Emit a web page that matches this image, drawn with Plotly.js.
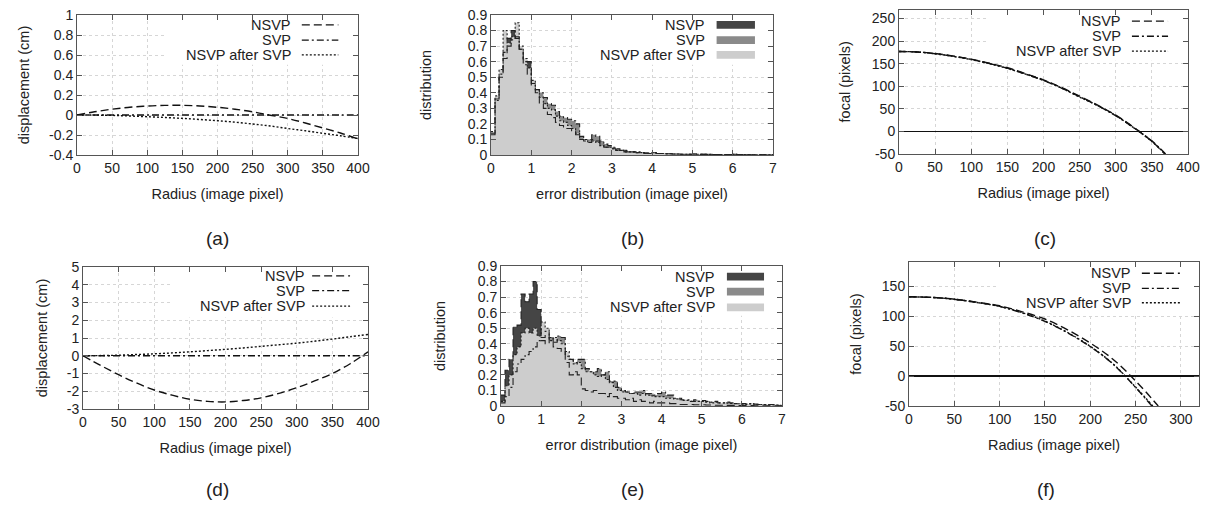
<!DOCTYPE html>
<html>
<head>
<meta charset="utf-8">
<script src="https://cdn.plot.ly/plotly-3.0.1.min.js"></script>
<style>html,body{margin:0;padding:0;background:#fff;}#chart{width:1213px;height:505px;}</style>
</head>
<body>
<div id="chart"></div>
<script>
// ---------------- DATA ----------------
const seriesNames = ["NSVP", "SVP", "NSVP after SVP"];
const panelLabels = ["(a)", "(b)", "(c)", "(d)", "(e)", "(f)"];

// tick labels (y axes with negative values use a plain hyphen, as in the original)
const yTicksA = [-0.4,-0.2,0,0.2,0.4,0.6,0.8,1];
const yTickTextA = ["-0.4","-0.2","0","0.2","0.4","0.6","0.8","1"];
const yTicksC = [-50,0,50,100,150,200,250];
const yTickTextC = ["-50","0","50","100","150","200","250"];
const yTicksD = [-3,-2,-1,0,1,2,3,4,5];
const yTickTextD = ["-3","-2","-1","0","1","2","3","4","5"];
const yTicksF = [-50,0,50,100,150];
const yTickTextF = ["-50","0","50","100","150"];

// (a) displacement vs radius
const radiusA = [0,25,50,75,100,125,150,175,200,225,250,275,300,325,350,375,400];
const dispA_NSVP  = [0,0.032,0.058,0.077,0.09,0.096,0.097,0.09,0.077,0.058,0.032,-0.002,-0.035,-0.08,-0.13,-0.18,-0.24];
const dispA_SVP   = [0,0,0,0,0,0,0,0,0,0,0,0,0,0,0,0,0];
const dispA_After = [0,-0.001,-0.004,-0.01,-0.017,-0.025,-0.034,-0.045,-0.057,-0.072,-0.09,-0.11,-0.135,-0.158,-0.183,-0.208,-0.235];

// (d) displacement vs radius
const radiusD = [0,25,50,75,100,125,150,175,200,225,250,275,300,325,350,375,400];
const dispD_NSVP  = [0,-0.55,-1.07,-1.53,-1.93,-2.22,-2.45,-2.57,-2.6,-2.52,-2.37,-2.12,-1.8,-1.42,-1.0,-0.45,0.22];
const dispD_SVP   = [0,0,0,0,0,0,0,0,0,0,0,0,0,0,0,0,0];
const dispD_After = [0,0.01,0.03,0.07,0.11,0.16,0.22,0.29,0.36,0.44,0.53,0.62,0.71,0.82,0.94,1.07,1.2];

// (c) focal vs radius
const radiusC_NSVP  = [0,25,50,75,100,125,150,175,200,225,250,275,300,325,350,368];
const focalC_NSVP   = [177,176,172.5,167,160,151,141,128,114,97,78,58,36,9,-22,-50];
const radiusC_SVP   = [0,25,50,75,100,125,150,175,200,225,250,275,300,325,350,369];
const focalC_SVP    = [177,176,172,166.5,159.5,150.5,140,127,113,96,77,57,35,8,-21,-50];
const radiusC_After = [0,25,50,75,100,125,150,175,200,225,250,275,300,325,350,368.5];
const focalC_After  = [177,176,172,166,159,150,139.5,127,113,96,76,57,35,8,-22,-50];

// (f) focal vs radius
const radiusF_NSVP  = [0,25,50,75,100,125,150,175,200,225,250,275];
const focalF_NSVP   = [132,131,128,123,117,107,95,77,55,28,-8,-50];
const radiusF_SVP   = [0,25,50,75,100,125,150,175,200,225,250,268];
const focalF_SVP    = [132,131,128,122.5,116,105,91,72,49,20,-19,-50];
const radiusF_After = [0,25,50,75,100,125,150,175,200,225,250,269];
const focalF_After  = [132,131,128,122.5,116,105.5,91.5,72.5,49.5,20.5,-18.5,-50];

// (b) error distribution histograms, bins of 0.1 from 0 to 7
const histB_NSVP = [
  0.14,0.36,0.50,0.62,0.75,0.80,0.75,0.68,0.60,0.60,
  0.46,0.40,0.33,0.30,0.26,0.24,0.21,0.19,0.17,0.17,
  0.15,0.13,0.10,0.09,0.08,0.10,0.09,0.07,0.05,0.05,
  0.04,0.03,0.03,0.02,0.02,0.02,0.015,0.015,0.012,0.01,
  0.015,0.01,0.01,0.008,0.008,0.006,0.006,0.005,0.005,0.005,
  0.006,0.005,0.004,0.004,0.004,0.003,0.003,0.003,0.003,0.003,
  0.005,0.003,0.003,0.002,0.002,0.002,0.002,0.002,0.002,0.002];
const histB_SVP = [
  0.13,0.35,0.52,0.66,0.70,0.74,0.76,0.68,0.58,0.52,
  0.45,0.42,0.40,0.37,0.33,0.32,0.28,0.25,0.24,0.23,
  0.22,0.20,0.12,0.10,0.10,0.13,0.12,0.09,0.07,0.06,
  0.05,0.04,0.03,0.03,0.02,0.02,0.02,0.015,0.012,0.012,
  0.015,0.01,0.01,0.008,0.008,0.006,0.006,0.005,0.005,0.005,
  0.006,0.005,0.004,0.004,0.004,0.003,0.003,0.003,0.003,0.003,
  0.005,0.003,0.003,0.002,0.002,0.002,0.002,0.002,0.002,0.002];
const histB_After = [
  0.15,0.38,0.55,0.80,0.72,0.76,0.85,0.70,0.62,0.56,
  0.48,0.42,0.37,0.33,0.30,0.29,0.25,0.22,0.21,0.19,
  0.17,0.14,0.10,0.10,0.08,0.09,0.08,0.06,0.05,0.05,
  0.04,0.03,0.03,0.02,0.02,0.02,0.015,0.015,0.01,0.01,
  0.015,0.01,0.01,0.008,0.008,0.006,0.006,0.005,0.005,0.005,
  0.006,0.005,0.004,0.004,0.004,0.003,0.003,0.003,0.003,0.003,
  0.005,0.003,0.003,0.002,0.002,0.002,0.002,0.002,0.002,0.002];

// (e) error distribution histograms
const histE_NSVP = [
  0.07,0.23,0.30,0.51,0.52,0.72,0.67,0.72,0.80,0.62,
  0.42,0.40,0.44,0.38,0.37,0.35,0.28,0.20,0.22,0.20,
  0.11,0.10,0.09,0.10,0.08,0.08,0.06,0.08,0.06,0.05,
  0.05,0.04,0.05,0.03,0.04,0.03,0.03,0.02,0.03,0.02,
  0.02,0.02,0.015,0.015,0.01,0.01,0.01,0.01,0.008,0.008,
  0.008,0.006,0.006,0.005,0.005,0.005,0.004,0.004,0.004,0.003,
  0.003,0.003,0.003,0.002,0.002,0.002,0.002,0.002,0.002,0.002];
const histE_SVP = [
  0.02,0.06,0.12,0.22,0.27,0.30,0.33,0.35,0.38,0.42,
  0.44,0.48,0.44,0.41,0.45,0.44,0.32,0.30,0.28,0.30,
  0.30,0.24,0.22,0.22,0.24,0.20,0.22,0.16,0.16,0.12,
  0.10,0.09,0.08,0.09,0.09,0.10,0.08,0.08,0.07,0.08,
  0.09,0.07,0.07,0.05,0.05,0.04,0.04,0.03,0.04,0.03,
  0.035,0.03,0.025,0.03,0.02,0.02,0.025,0.02,0.015,0.015,
  0.015,0.01,0.015,0.012,0.01,0.01,0.008,0.01,0.006,0.005];
const histE_After = [
  0.03,0.13,0.20,0.33,0.38,0.47,0.50,0.47,0.50,0.45,
  0.54,0.50,0.42,0.44,0.42,0.40,0.35,0.30,0.27,0.28,
  0.24,0.22,0.22,0.20,0.19,0.20,0.17,0.15,0.12,0.10,
  0.09,0.09,0.08,0.08,0.07,0.08,0.07,0.065,0.06,0.06,
  0.06,0.05,0.05,0.045,0.04,0.035,0.035,0.03,0.03,0.03,
  0.03,0.025,0.02,0.025,0.02,0.02,0.018,0.016,0.015,0.014,
  0.012,0.012,0.015,0.01,0.01,0.01,0.008,0.008,0.006,0.005];

const binWidth = 0.1;
const binCount = 70;

// ---------------- STYLE ----------------
const FONT = "Liberation Sans, Arial, Helvetica, sans-serif";
const INK = "#111111";
const dashStyles = ["8px,4px", "7px,3px,2px,3px", "2px,2px"];
const fillColors = ["#454545", "#8a8a8a", "#cdcdcd"];

const binEdges = [];
for (let i = 0; i <= binCount; i++) binEdges.push(+(i * binWidth).toFixed(2));
function stepY(vals) { return vals.concat([vals[vals.length - 1]]); }

const traces = [];

// (a)
[dispA_NSVP, dispA_SVP, dispA_After].forEach((ys, k) => traces.push({
  type: "scatter", mode: "lines", x: radiusA, y: ys, xaxis: "x", yaxis: "y",
  line: {color: INK, width: 1.4, dash: dashStyles[k], shape: "spline"}, showlegend: false, name: seriesNames[k]}));
// (b) fills then outlines
[histB_NSVP, histB_SVP, histB_After].forEach((ys, k) => traces.push({
  type: "scatter", mode: "lines", x: binEdges, y: stepY(ys), xaxis: "x2", yaxis: "y2",
  line: {width: 0, shape: "hv"}, fill: "tozeroy", fillcolor: fillColors[k], showlegend: false, name: seriesNames[k]}));
[histB_NSVP, histB_SVP, histB_After].forEach((ys, k) => traces.push({
  type: "scatter", mode: "lines", x: binEdges, y: stepY(ys), xaxis: "x2", yaxis: "y2",
  line: {color: "#222", width: 1.1, shape: "hv", dash: dashStyles[k]}, showlegend: false, name: seriesNames[k]}));
// (c)
[[radiusC_NSVP, focalC_NSVP], [radiusC_SVP, focalC_SVP], [radiusC_After, focalC_After]].forEach((p, k) => traces.push({
  type: "scatter", mode: "lines", x: p[0], y: p[1], xaxis: "x3", yaxis: "y3", line: {color: INK, width: 1.4, dash: dashStyles[k], shape: "spline"},
  showlegend: false, name: seriesNames[k]}));
// (d)
[dispD_NSVP, dispD_SVP, dispD_After].forEach((ys, k) => traces.push({
  type: "scatter", mode: "lines", x: radiusD, y: ys, xaxis: "x4", yaxis: "y4",
  line: {color: INK, width: 1.4, dash: dashStyles[k], shape: "spline"}, showlegend: false, name: seriesNames[k]}));
// (e)
[histE_NSVP, histE_SVP, histE_After].forEach((ys, k) => traces.push({
  type: "scatter", mode: "lines", x: binEdges, y: stepY(ys), xaxis: "x5", yaxis: "y5",
  line: {width: 0, shape: "hv"}, fill: "tozeroy", fillcolor: fillColors[k], showlegend: false, name: seriesNames[k]}));
[histE_NSVP, histE_SVP, histE_After].forEach((ys, k) => traces.push({
  type: "scatter", mode: "lines", x: binEdges, y: stepY(ys), xaxis: "x5", yaxis: "y5",
  line: {color: "#222", width: 1.1, shape: "hv", dash: dashStyles[k]}, showlegend: false, name: seriesNames[k]}));
// (f)
[[radiusF_NSVP, focalF_NSVP], [radiusF_SVP, focalF_SVP], [radiusF_After, focalF_After]].forEach((p, k) => traces.push({
  type: "scatter", mode: "lines", x: p[0], y: p[1], xaxis: "x6", yaxis: "y6", line: {color: INK, width: 1.4, dash: dashStyles[k], shape: "spline"},
  showlegend: false, name: seriesNames[k]}));

// ---------------- LAYOUT ----------------
const W = 1213, H = 505;
function dx(a, b) { return [a / W, b / W]; }
function dy(top, bot) { return [1 - bot / H, 1 - top / H]; }

function axisBase(extra) {
  return Object.assign({
    showline: true, linecolor: "#555", linewidth: 1, mirror: "ticks",
    ticks: "inside", ticklen: 5, tickcolor: "#555", tickwidth: 1,
    showgrid: true, gridcolor: "#d6d6d6", griddash: "dot", gridwidth: 1,
    zeroline: false, tickfont: {family: FONT, size: 14, color: "#222"},
    fixedrange: true
  }, extra);
}
function xTitle(t) { return {text: t, font: {family: FONT, size: 14.5, color: "#222"}, standoff: 14}; }
function yTitle(t, s) { return {text: t, font: {family: FONT, size: 14.5, color: "#222"}, standoff: s}; }

const panels = [
  {id: "", dom: dx(77, 358), dy: dy(15, 155), xr: [0, 400], xd: 50, yr: [-0.4, 1], ydt: 0.2, tv: yTicksA, tt: yTickTextA,
   xt: "Radius (image pixel)", yt: "displacement (cm)", ys: 16, hist: false,
   leg: {tx: 0.77, sx: [0.80, 0.93], ys: [0.93, 0.82, 0.715]}, label: [217, 238]},
  {id: "2", dom: dx(491, 773), dy: dy(15, 155), xr: [0, 7], xd: 1, yr: [0, 0.9], ydt: 0.1,
   xt: "error distribution (image pixel)", yt: "distribution", ys: 32, hist: true,
   leg: {tx: 0.766, sx: [0.80, 0.936], ys: [0.93, 0.82, 0.715]}, label: [632, 238]},
  {id: "3", dom: dx(899, 1188), dy: dy(9.5, 154), xr: [0, 400], xd: 50, yr: [-50, 270], ydt: 50, tv: yTicksC, tt: yTickTextC,
   xt: "Radius (image pixel)", yt: "focal (pixels)", ys: 17, hist: false, zero: true,
   leg: {tx: 0.775, sx: [0.806, 0.931], ys: [0.919, 0.815, 0.712]}, label: [1045, 238]},
  {id: "4", dom: dx(83, 368), dy: dy(267, 409), xr: [0, 400], xd: 50, yr: [-3, 5], ydt: 1, tv: yTicksD, tt: yTickTextD,
   xt: "Radius (image pixel)", yt: "displacement (cm)", ys: 15, hist: false,
   leg: {tx: 0.786, sx: [0.804, 0.937], ys: [0.937, 0.833, 0.725]}, label: [217, 489]},
  {id: "5", dom: dx(501, 782), dy: dy(266, 406), xr: [0, 7], xd: 1, yr: [0, 0.9], ydt: 0.1,
   xt: "error distribution (image pixel)", yt: "distribution", ys: 28, hist: true,
   leg: {tx: 0.769, sx: [0.804, 0.936], ys: [0.924, 0.817, 0.705]}, label: [632, 489]},
  {id: "6", dom: dx(909, 1199), dy: dy(262, 406), xr: [0, 320], xd: 50, yr: [-50, 190], ydt: 50, tv: yTicksF, tt: yTickTextF,
   xt: "Radius (image pixel)", yt: "focal (pixels)", ys: 16, hist: false, zero: true,
   leg: {tx: 0.772, sx: [0.803, 0.934], ys: [0.922, 0.817, 0.717]}, label: [1046, 489]}
];

const layout = {
  width: W, height: H, margin: {l: 0, r: 0, t: 0, b: 0},
  paper_bgcolor: "#fff", plot_bgcolor: "#fff", showlegend: false,
  font: {family: FONT, size: 14, color: "#222"},
  annotations: [], shapes: []
};

panels.forEach((p, i) => {
  const xk = "xaxis" + p.id, yk = "yaxis" + p.id;
  const xa = "x" + p.id, ya = "y" + p.id;
  const fx = f => p.xr[0] + f * (p.xr[1] - p.xr[0]);
  const fy = f => p.yr[0] + f * (p.yr[1] - p.yr[0]);
  layout[xk] = axisBase({domain: p.dom, range: p.xr, dtick: p.xd, tick0: 0, anchor: ya, title: xTitle(p.xt)});
  const yax = {domain: p.dy, range: p.yr, anchor: xa, title: yTitle(p.yt, p.ys)};
  if (p.tv) { yax.tickmode = "array"; yax.tickvals = p.tv; yax.ticktext = p.tt; }
  else { yax.dtick = p.ydt; yax.tick0 = 0; }
  layout[yk] = axisBase(yax);
  if (p.zero) { layout[yk].zeroline = true; layout[yk].zerolinecolor = INK; layout[yk].zerolinewidth = 1.5; }
  // white key box hiding the grid behind the key
  layout.shapes.push({type: "rect", xref: xa, yref: ya, x0: fx(0.31), x1: fx(0.996), y0: fy(0.645), y1: fy(0.996),
    fillcolor: "#fff", line: {width: 0}, layer: "between"});
  seriesNames.forEach((nm, k) => {
    layout.annotations.push({xref: xa, yref: ya, x: fx(p.leg.tx), y: fy(p.leg.ys[k]), xanchor: "right", yanchor: "middle",
      text: nm, showarrow: false, font: {family: FONT, size: 14.5, color: "#222"}});
    if (p.hist) {
      layout.shapes.push({type: "rect", xref: xa, yref: ya, x0: fx(p.leg.sx[0]), x1: fx(p.leg.sx[1]),
        y0: fy(p.leg.ys[k] - 0.028), y1: fy(p.leg.ys[k] + 0.028), fillcolor: fillColors[k], line: {width: 0}, layer: "above"});
    } else {
      layout.shapes.push({type: "line", xref: xa, yref: ya, x0: fx(p.leg.sx[0]), x1: fx(p.leg.sx[1]),
        y0: fy(p.leg.ys[k]), y1: fy(p.leg.ys[k]), line: {color: INK, width: 1.3, dash: dashStyles[k]}, layer: "above"});
    }
  });
  layout.annotations.push({xref: "paper", yref: "paper", x: p.label[0] / W, y: 1 - p.label[1] / H, xanchor: "center", yanchor: "middle",
    text: panelLabels[i], showarrow: false, font: {family: FONT, size: 19, color: "#222"}});
});

Plotly.newPlot("chart", traces, layout, {staticPlot: true, displayModeBar: false});
</script>
</body>
</html>
